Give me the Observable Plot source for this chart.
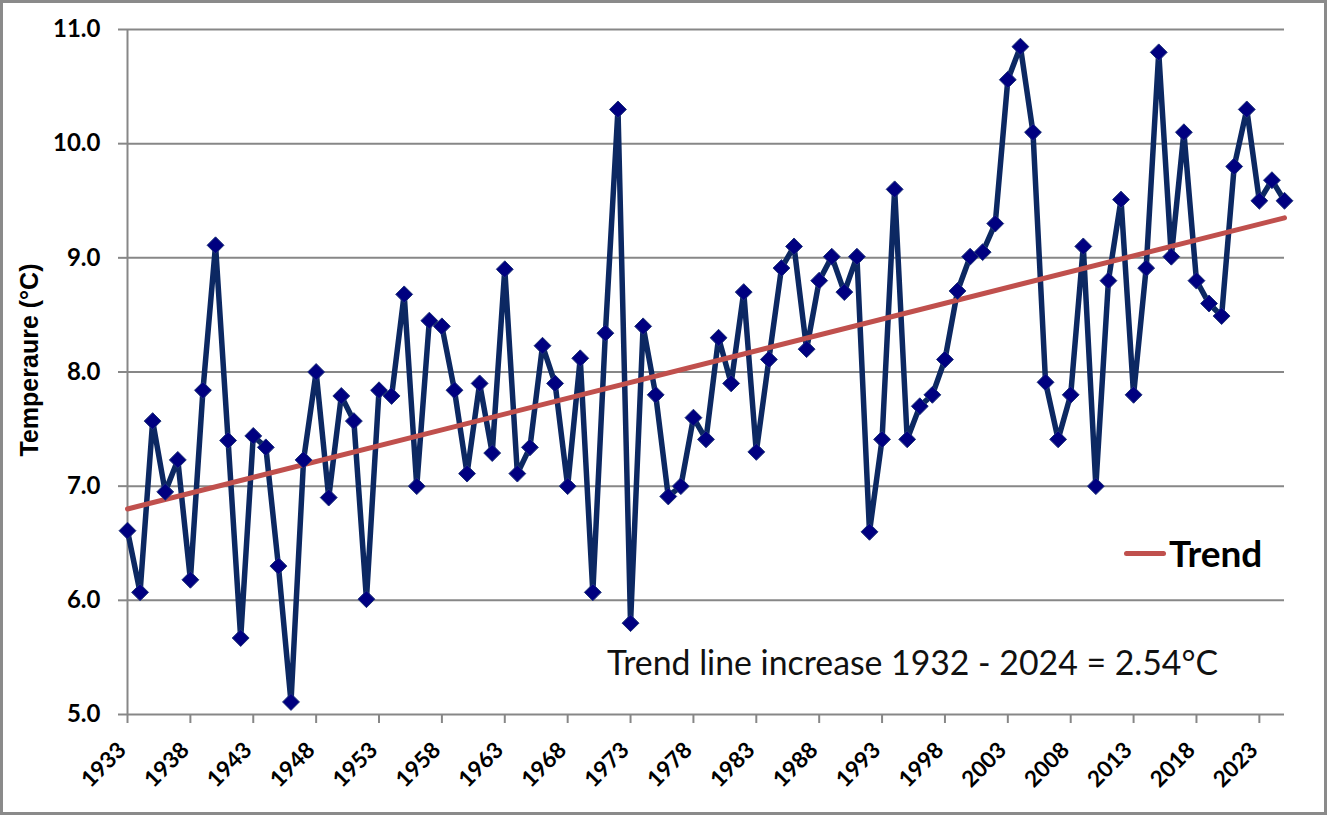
<!DOCTYPE html>
<html>
<head>
<meta charset="utf-8">
<script src="https://cdn.jsdelivr.net/npm/d3@7"></script>
<script src="https://cdn.jsdelivr.net/npm/@observablehq/plot@0.6"></script>
<style>
  html, body { margin: 0; padding: 0; background: #fff; }
  #wrap { position: relative; width: 1327px; height: 815px; overflow: hidden; }
  #frame { position: absolute; left: 0; top: 0; width: 1327px; height: 815px; box-sizing: border-box; border: 3px solid #8a8a8a; pointer-events: none; }
  #legend { position: absolute; left: 1124px; top: 531px; font-family: Lato, sans-serif; font-weight: 700; font-size: 37px; line-height: 1.2; color: #000; display: flex; align-items: center; }
  #legend .swatch { width: 42px; height: 5px; background: #C0504D; border-radius: 3px; margin-right: 3px; }
  #note { position: absolute; left: 607px; top: 642px; font-family: Lato, sans-serif; font-size: 33.8px; line-height: 1.2; color: #111; white-space: nowrap; }
</style>
</head>
<body>
<div id="wrap">
  <div id="chart"></div>
  <div id="legend"><div class="swatch"></div><span>Trend</span></div>
  <div id="note">Trend line increase 1932 - 2024 = 2.54°C</div>
  <div id="frame"></div>
</div>
<script>
const years = [1933,1934,1935,1936,1937,1938,1939,1940,1941,1942,1943,1944,1945,1946,1947,1948,1949,1950,
  1951,1952,1953,1954,1955,1956,1957,1958,1959,1960,1961,1962,1963,1964,1965,1966,1967,1968,1969,1970,
  1971,1972,1973,1974,1975,1976,1977,1978,1979,1980,1981,1982,1983,1984,1985,1986,1987,1988,1989,1990,
  1991,1992,1993,1994,1995,1996,1997,1998,1999,2000,2001,2002,2003,2004,2005,2006,2007,2008,2009,2010,
  2011,2012,2013,2014,2015,2016,2017,2018,2019,2020,2021,2022,2023,2024,2025];
const temps = [6.61,6.07,7.57,6.95,7.23,6.18,7.84,9.11,7.40,5.67,7.44,7.34,6.30,5.11,7.23,8.00,6.90,7.79,
  7.57,6.01,7.84,7.79,8.68,7.00,8.45,8.40,7.84,7.11,7.90,7.29,8.90,7.11,7.34,8.23,7.90,7.00,8.12,6.07,
  8.34,10.30,5.80,8.40,7.80,6.91,7.00,7.60,7.41,8.30,7.90,8.70,7.30,8.11,8.91,9.10,8.20,8.80,9.01,8.70,
  9.01,6.60,7.41,9.60,7.41,7.70,7.80,8.11,8.71,9.01,9.05,9.30,10.56,10.85,10.10,7.91,7.41,7.80,9.10,7.00,
  8.80,9.51,7.80,8.91,10.80,9.01,10.10,8.80,8.60,8.49,9.80,10.30,9.50,9.68,9.50];
const trendYears = [1933, 2025];
const trendValues = [6.80, 9.35];
const xTickYears = [1933,1938,1943,1948,1953,1958,1963,1968,1973,1978,1983,1988,1993,1998,2003,2008,2013,2018,2023];
const yTickValues = [5,6,7,8,9,10,11];
const yTitle = "Temperaure (°C)";

const data = years.map((y, i) => ({year: y, temp: temps[i]}));
const trend = trendYears.map((y, i) => ({year: y, temp: trendValues[i]}));

const grid = "#878787";
const chart = Plot.plot({
  width: 1327,
  height: 815,
  marginLeft: 127,
  marginRight: 43,
  marginTop: 29,
  marginBottom: 101,
  x: {domain: [1933, 2025]},
  y: {domain: [5, 11]},
  style: {fontFamily: "Lato, sans-serif", background: "white", overflow: "visible"},
  marks: [
    Plot.ruleY(yTickValues, {stroke: grid, strokeWidth: 2}),
    Plot.ruleX([1933], {stroke: grid, strokeWidth: 2}),
    Plot.axisY({ticks: yTickValues, tickFormat: d => d.toFixed(1), tickSize: 9, tickPadding: 18,
      stroke: grid, strokeWidth: 2, fill: "black", fontSize: 24, fontWeight: "bold", label: null}),
    Plot.axisX({ticks: xTickYears, tickFormat: () => "", tickSize: 9, stroke: grid, strokeWidth: 2, label: null}),
    Plot.text(xTickYears, {x: d => d, frameAnchor: "bottom", dy: 37, rotate: -45, textAnchor: "end",
      text: d => String(d), fontSize: 22.5, fontWeight: "bold", fill: "black"}),
    Plot.text([yTitle], {frameAnchor: "left", dx: -98, dy: -12, rotate: -90, textAnchor: "middle", text: d => d,
      fontSize: 25, fontWeight: "bold", fontFamily: "Liberation Sans, Arial, sans-serif", fill: "black"}),
    Plot.line(data, {x: "year", y: "temp", stroke: "#0C2862", strokeWidth: 5.5, strokeLinejoin: "miter", strokeMiterlimit: 2}),
    Plot.line(trend, {x: "year", y: "temp", stroke: "#C0504D", strokeWidth: 5}),
    Plot.dot(data, {x: "year", y: "temp", symbol: "diamond2", r: 7.6, fill: "#000080", stroke: "#1e3278", strokeWidth: 1})
  ]
});
document.getElementById("chart").appendChild(chart);
</script>
</body>
</html>
